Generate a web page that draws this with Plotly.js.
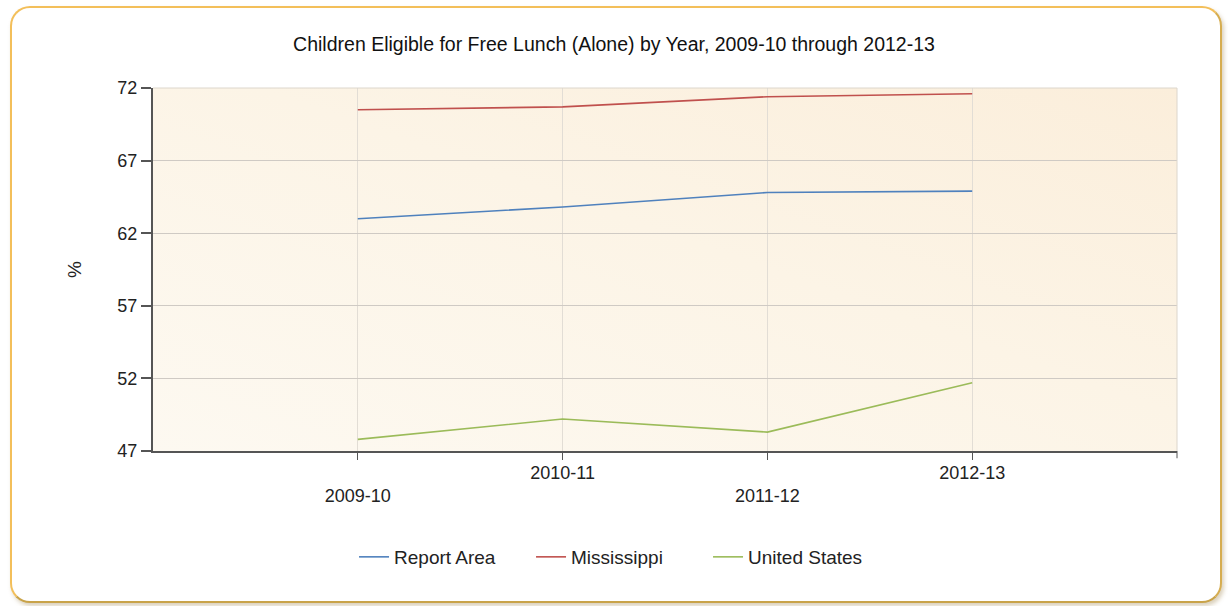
<!DOCTYPE html>
<html>
<head>
<meta charset="utf-8">
<script src="https://cdn.plot.ly/plotly-3.0.1.min.js"></script>
<style>
  html, body { margin:0; padding:0; background:#ffffff; width:1228px; height:606px; overflow:hidden; }
  #frame { position:absolute; left:10px; top:6px; width:1208px; height:593px;
    border:2px solid #f3bf5a; border-bottom-color:#c9a349; border-right-color:#d6ad50;
    border-radius:20px; box-shadow: 2px 3px 4px rgba(150,120,60,0.35); background:#fff; }
  #plotbg { position:absolute; left:153px; top:88px; width:1024px; height:363px;
    background: linear-gradient(to bottom left, #fbeedb 0%, #fcf4e6 45%, #fdf9f1 100%); }
  #chart { position:absolute; left:0; top:0; width:1228px; height:606px; }
</style>
</head>
<body>
<div id="frame"></div>
<div id="plotbg"></div>
<div id="chart"></div>
<script>
const categories = ['2009-10', '2010-11', '2011-12', '2012-13'];
const reportArea = [63.0, 63.8, 64.8, 64.9];
const mississippi = [70.5, 70.7, 71.4, 71.6];
const unitedStates = [47.8, 49.2, 48.3, 51.7];
const yTicks = [47, 52, 57, 62, 67, 72];

const FONT = 'Liberation Sans, Arial, sans-serif';

const mk = (name, y, color) => ({
  type: 'scatter', mode: 'lines', name: name,
  x: categories, y: y,
  line: { color: color, width: 1.6 },
  hoverinfo: 'skip'
});

const data = [
  mk('Report Area', reportArea, '#4f81bd'),
  mk('Mississippi', mississippi, '#c0504d'),
  mk('United States', unitedStates, '#9bbb59')
];

const layout = {
  width: 1228, height: 606,
  margin: { l: 153, r: 51, t: 88, b: 155 },
  paper_bgcolor: 'rgba(0,0,0,0)',
  plot_bgcolor: 'rgba(0,0,0,0)',
  font: { family: FONT, size: 18, color: '#222' },
  title: { text: 'Children Eligible for Free Lunch (Alone) by Year, 2009-10 through 2012-13',
           font: { family: FONT, size: 19.5, color: '#111' }, x: 0.5, xanchor: 'center', y: 0.927, yanchor: 'middle' },
  showlegend: true,
  legend: { orientation: 'h', x: 0.4556, xanchor: 'center', y: -0.292, yanchor: 'middle',
            entrywidth: 132, entrywidthmode: 'pixels',
            font: { family: FONT, size: 19, color: '#222' }, tracegroupgap: 0 },
  xaxis: {
    type: 'category', range: [-1, 4],
    tickvals: categories,
    ticktext: categories.map((c, i) => i % 2 === 0 ? '<br>' + c : c),
    showgrid: true, gridcolor: '#e2ddd5', gridwidth: 1,
    showline: true, linecolor: '#555', linewidth: 2,
    ticks: 'outside', ticklen: 7, tickcolor: '#555', tickwidth: 1,
    ticklabelstandoff: -3,
    tickfont: { family: FONT, size: 18, color: '#222' },
    zeroline: false, fixedrange: true
  },
  yaxis: {
    range: [47, 72], tickvals: yTicks,
    showgrid: true, gridcolor: '#cfcac4', gridwidth: 1,
    showline: true, linecolor: '#555', linewidth: 2,
    ticks: 'outside', ticklen: 10, tickcolor: '#555', tickwidth: 2,
    tickfont: { family: FONT, size: 18, color: '#222' },
    title: { text: '%', font: { family: FONT, size: 19, color: '#222' }, standoff: 31 },
    zeroline: false, fixedrange: true
  },
  shapes: [
    { type: 'line', xref: 'paper', yref: 'paper', x0: 1, x1: 1, y0: 0, y1: 1,
      line: { color: '#dcd6cc', width: 1 } },
    { type: 'line', xref: 'paper', yref: 'paper', x0: 0, x1: 1, y0: 1, y1: 1,
      line: { color: '#dcd6cc', width: 1 } },
    { type: 'line', xref: 'paper', yref: 'paper', x0: 1, x1: 1, y0: 0, y1: -0.02,
      line: { color: '#555', width: 1 } }
  ]
};

Plotly.newPlot('chart', data, layout, { displayModeBar: false, staticPlot: true });
</script>
</body>
</html>
